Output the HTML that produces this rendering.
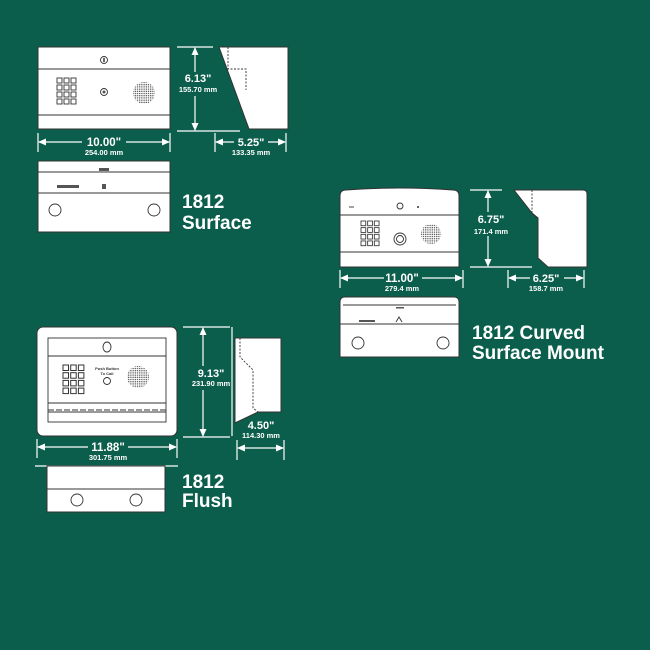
<!DOCTYPE html>
<html><head><meta charset="utf-8"><style>
html,body{margin:0;padding:0;background:#0b5e4b;}
svg{display:block}
text{font-family:"Liberation Sans",sans-serif;font-weight:bold;fill:#fff}
.s{stroke:#fff;fill:none;stroke-width:1.3}
.b{fill:#fff;stroke:#333;stroke-width:1}
.l{stroke:#333;stroke-width:0.9;fill:none}
.d{stroke:#fff;stroke-width:1.2}
</style></head><body>
<svg width="650" height="650" viewBox="0 0 650 650" xmlns="http://www.w3.org/2000/svg">
<defs>
<marker id="a" markerWidth="8" markerHeight="8" refX="7" refY="4" orient="auto-start-reverse" markerUnits="userSpaceOnUse"><path d="M0,0.5 L8,4 L0,7.5 z" fill="#fff"/></marker>
<pattern id="sp" width="2.2" height="2.2" patternUnits="userSpaceOnUse"><circle cx="1.1" cy="1.1" r="0.7" fill="#444"/></pattern>
<g id="kp">
<rect x="0" y="0" width="5" height="5" class="l"/><rect x="7" y="0" width="5" height="5" class="l"/><rect x="14" y="0" width="5" height="5" class="l"/>
<rect x="0" y="7" width="5" height="5" class="l"/><rect x="7" y="7" width="5" height="5" class="l"/><rect x="14" y="7" width="5" height="5" class="l"/>
<rect x="0" y="14" width="5" height="5" class="l"/><rect x="7" y="14" width="5" height="5" class="l"/><rect x="14" y="14" width="5" height="5" class="l"/>
<rect x="0" y="21" width="5" height="5" class="l"/><rect x="7" y="21" width="5" height="5" class="l"/><rect x="14" y="21" width="5" height="5" class="l"/>
</g>
</defs>

<!-- 1812 Surface front -->
<rect x="38" y="47" width="132" height="82" class="b"/>
<line x1="38" y1="69" x2="170" y2="69" class="l"/>
<line x1="38" y1="115" x2="170" y2="115" class="l"/>
<circle cx="104" cy="60" r="3.5" class="l"/><line x1="104" y1="58" x2="104" y2="62" stroke="#333" stroke-width="1.5"/>
<use href="#kp" x="57" y="78"/>
<circle cx="104" cy="92" r="3.5" class="l"/><circle cx="104" cy="92" r="1.5" fill="#555"/>
<circle cx="144" cy="93" r="11" fill="url(#sp)"/>
<!-- vertical dim -->
<line x1="177" y1="47" x2="213" y2="47" class="d"/><line x1="177" y1="131" x2="240" y2="131" class="d"/>
<line x1="195" y1="48" x2="195" y2="130" class="d" marker-start="url(#a)" marker-end="url(#a)"/>
<rect x="180" y="72" width="34" height="24" fill="#0b5e4b"/>
<text x="198" y="82" font-size="11" text-anchor="middle">6.13"</text>
<text x="198" y="92" font-size="7.5" text-anchor="middle">155.70 mm</text>
<!-- side -->
<polygon points="219,47 288,47 288,129 249,129" class="b"/>
<polyline points="228,47 228,69 246,69 246,90" class="l" stroke-dasharray="2,1.5"/>
<!-- widths -->
<line x1="38" y1="133" x2="38" y2="152" class="d"/><line x1="170" y1="133" x2="170" y2="152" class="d"/>
<line x1="39" y1="142" x2="169" y2="142" class="d" marker-start="url(#a)" marker-end="url(#a)"/>
<rect x="82" y="136" width="44" height="10" fill="#0b5e4b"/>
<text x="104" y="146" font-size="11.5" text-anchor="middle">10.00"</text>
<text x="104" y="155" font-size="7.5" text-anchor="middle">254.00 mm</text>
<line x1="215" y1="133" x2="215" y2="152" class="d"/><line x1="286" y1="133" x2="286" y2="152" class="d"/>
<line x1="216" y1="142" x2="285" y2="142" class="d" marker-start="url(#a)" marker-end="url(#a)"/>
<rect x="234" y="136" width="34" height="10" fill="#0b5e4b"/>
<text x="251" y="146" font-size="11" text-anchor="middle">5.25"</text>
<text x="251" y="155" font-size="7.5" text-anchor="middle">133.35 mm</text>
<!-- bottom -->
<rect x="38" y="161" width="132" height="71" class="b"/>
<line x1="38" y1="172" x2="170" y2="172" class="l"/><line x1="38" y1="193" x2="170" y2="193" class="l"/>
<rect x="99" y="168" width="10" height="3" fill="#555"/><rect x="57" y="185" width="22" height="3" fill="#555"/><rect x="102" y="184" width="4" height="5" fill="#555"/>
<circle cx="55" cy="210" r="6" class="l"/><circle cx="154" cy="210" r="6" class="l"/>
<text x="182" y="208" font-size="19">1812</text>
<text x="182" y="229" font-size="19">Surface</text>

<!-- Curved -->
<path d="M340,267 L340,196 Q340,190 346,190 Q400,186 453,190 Q459,190 459,196 L459,267 Z" class="b"/>
<line x1="340" y1="215" x2="459" y2="215" class="l"/><line x1="340" y1="252" x2="459" y2="252" class="l"/>
<line x1="349" y1="207" x2="354" y2="207" class="l"/>
<circle cx="400" cy="206" r="3" class="l"/><circle cx="418" cy="207" r="1" fill="#333"/>
<use href="#kp" x="361" y="221" transform="translate(361,221) scale(0.95) translate(-361,-221)"/>
<circle cx="400" cy="239" r="6" class="l"/><circle cx="400" cy="239" r="3.5" class="l"/>
<circle cx="431" cy="234" r="10" fill="url(#sp)"/>
<line x1="470" y1="190" x2="502" y2="190" class="d"/><line x1="470" y1="267" x2="532" y2="267" class="d"/>
<line x1="488" y1="191" x2="488" y2="266" class="d" marker-start="url(#a)" marker-end="url(#a)"/>
<rect x="473" y="212" width="38" height="24" fill="#0b5e4b"/>
<text x="491" y="223" font-size="11" text-anchor="middle">6.75"</text>
<text x="491" y="234" font-size="7.5" text-anchor="middle">171.4 mm</text>
<path d="M514,190 L583,190 Q587,190 587,194 L587,267 L548,267 L538,258 L538,218 L532,213 Z" class="b"/>
<polyline points="532,190 532,214 537,218" class="l" stroke-dasharray="2,1.5"/>
<line x1="340" y1="270" x2="340" y2="288" class="d"/><line x1="463" y1="270" x2="463" y2="288" class="d"/>
<line x1="341" y1="278" x2="462" y2="278" class="d" marker-start="url(#a)" marker-end="url(#a)"/>
<rect x="384" y="272" width="38" height="10" fill="#0b5e4b"/>
<text x="402" y="282" font-size="11.5" text-anchor="middle">11.00"</text>
<text x="402" y="291" font-size="7.5" text-anchor="middle">279.4 mm</text>
<line x1="508" y1="270" x2="508" y2="288" class="d"/><line x1="584" y1="270" x2="584" y2="288" class="d"/>
<line x1="509" y1="278" x2="583" y2="278" class="d" marker-start="url(#a)" marker-end="url(#a)"/>
<rect x="530" y="272" width="34" height="10" fill="#0b5e4b"/>
<text x="546" y="282" font-size="11" text-anchor="middle">6.25"</text>
<text x="546" y="291" font-size="7.5" text-anchor="middle">158.7 mm</text>
<path d="M340,357 L340,302 Q340,297 345,297 L454,297 Q459,297 459,302 L459,357 Z" class="b"/>
<line x1="343" y1="305" x2="456" y2="305" class="l"/><line x1="340" y1="324" x2="459" y2="324" class="l"/>
<rect x="396" y="307" width="8" height="1.5" fill="#555"/><rect x="359" y="320" width="16" height="2" fill="#555"/><path d="M396,322 L399,317 L402,322" class="l"/>
<circle cx="358" cy="343" r="6" class="l"/><circle cx="443" cy="343" r="6" class="l"/>
<text x="472" y="339" font-size="19">1812 Curved</text>
<text x="472" y="359" font-size="19">Surface Mount</text>

<!-- Flush -->
<rect x="37" y="327" width="140" height="109" rx="6" class="b"/>
<rect x="48" y="338" width="118" height="84" class="l"/>
<line x1="48" y1="356" x2="166" y2="356" class="l"/>
<line x1="48" y1="403" x2="166" y2="403" class="l"/>
<line x1="48" y1="410" x2="166" y2="410" class="l" stroke-dasharray="6,2"/>
<line x1="48" y1="412" x2="166" y2="412" class="l"/>
<ellipse cx="107" cy="347" rx="4" ry="5" class="l"/>
<use href="#kp" x="63" y="365" transform="translate(63,365) scale(1.1) translate(-63,-365)"/>
<text x="107" y="370" font-size="4" text-anchor="middle" style="fill:#333">Push Button</text>
<text x="107" y="375" font-size="4" text-anchor="middle" style="fill:#333">To Call</text>
<circle cx="107" cy="381" r="3.5" class="l"/>
<circle cx="138" cy="377" r="11" fill="url(#sp)"/>
<line x1="183" y1="327" x2="230" y2="327" class="d"/><line x1="183" y1="437" x2="230" y2="437" class="d"/>
<line x1="203" y1="328" x2="203" y2="436" class="d" marker-start="url(#a)" marker-end="url(#a)"/>
<rect x="190" y="366" width="42" height="24" fill="#0b5e4b"/>
<text x="211" y="377" font-size="11" text-anchor="middle">9.13"</text>
<text x="211" y="386" font-size="7.5" text-anchor="middle">231.90 mm</text>
<line x1="232" y1="327" x2="232" y2="436" class="d"/>
<polygon points="235,338 281,338 281,412 258,412 235,423" class="b"/>
<polyline points="240,338 240,357 253,370 253,408 258,412" class="l" stroke-dasharray="2,1.5"/>
<text x="261" y="429" font-size="11" text-anchor="middle">4.50"</text>
<text x="261" y="438" font-size="7.5" text-anchor="middle">114.30 mm</text>
<line x1="237" y1="440" x2="237" y2="460" class="d"/><line x1="284" y1="440" x2="284" y2="460" class="d"/>
<line x1="238" y1="448" x2="283" y2="448" class="d" marker-start="url(#a)" marker-end="url(#a)"/>
<line x1="37" y1="439" x2="37" y2="458" class="d"/><line x1="177" y1="439" x2="177" y2="458" class="d"/>
<line x1="38" y1="447" x2="176" y2="447" class="d" marker-start="url(#a)" marker-end="url(#a)"/>
<rect x="88" y="441" width="40" height="10" fill="#0b5e4b"/>
<text x="108" y="451" font-size="11.5" text-anchor="middle">11.88"</text>
<text x="108" y="460" font-size="7.5" text-anchor="middle">301.75 mm</text>
<line x1="35" y1="466" x2="178" y2="466" class="d"/>
<rect x="47" y="466" width="118" height="46" class="b"/>
<line x1="47" y1="489" x2="165" y2="489" class="l"/>
<circle cx="77" cy="500" r="6" class="l"/><circle cx="136" cy="500" r="6" class="l"/>
<text x="182" y="488" font-size="19">1812</text>
<text x="182" y="507" font-size="19">Flush</text>
</svg>
</body></html>
